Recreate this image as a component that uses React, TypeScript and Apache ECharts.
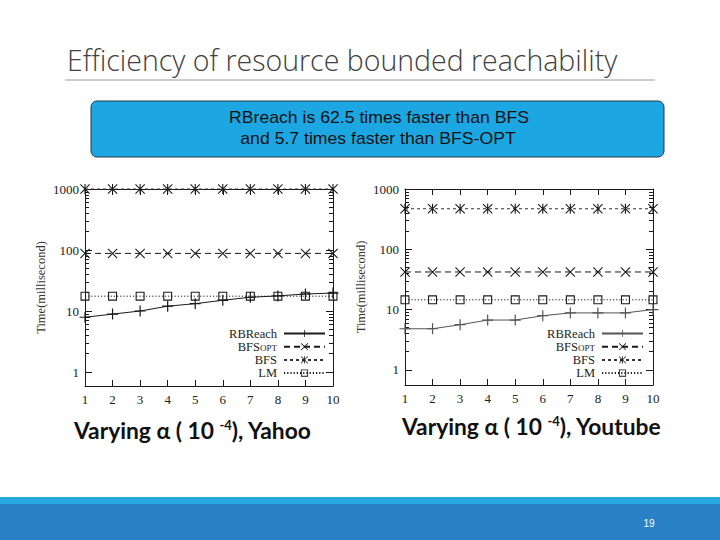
import React, { useEffect, useRef } from "react";
import * as echarts from "echarts";

const xValues = [1, 2, 3, 4, 5, 6, 7, 8, 9, 10];
const yTickLabels = ["1", "10", "100", "1000"];
const minorTicks = [2, 3, 4, 5, 6, 7, 8, 9, 20, 30, 40, 50, 60, 70, 80, 90, 200, 300, 400, 500, 600, 700, 800, 900];

// Yahoo (left chart)
const yahooRBReach = [7.9, 8.9, 10, 12, 13.2, 15, 16.8, 17.7, 19, 19.7];
const yahooBFSOPT = [88, 88, 88, 88, 88, 88, 88, 88, 88, 88];
const yahooBFS = [1000, 1000, 1000, 1000, 1000, 1000, 1000, 1000, 1000, 1000];
const yahooLM = [17.5, 17.5, 17.5, 17.5, 17.5, 17.5, 17.5, 17.5, 17.5, 17.5];

// Youtube (right chart)
const youtubeRBReach = [4.8, 4.8, 5.6, 6.7, 6.7, 7.9, 8.8, 8.8, 8.8, 10];
const youtubeBFSOPT = [42, 42, 42, 42, 42, 42, 42, 42, 42, 42];
const youtubeBFS = [470, 470, 470, 470, 470, 470, 470, 470, 470, 470];
const youtubeLM = [14.5, 14.5, 14.5, 14.5, 14.5, 14.5, 14.5, 14.5, 14.5, 14.5];

const seriesNames = ["RBReach", "BFSOPT", "BFS", "LM"];

const SYM_PLUS = "path://M4.45,0L5.55,0L5.55,10L4.45,10ZM0,4.45L10,4.45L10,5.55L0,5.55Z";
const SYM_CROSS = "path://M0,0.75L0.75,0L10,9.25L9.25,10ZM9.25,0L10,0.75L0.75,10L0,9.25Z";
const SYM_STAR = "path://M0,0.75L0.75,0L10,9.25L9.25,10ZM9.25,0L10,0.75L0.75,10L0,9.25ZM4.45,0L5.55,0L5.55,10L4.45,10Z";
const SYM_SQUARE = "path://M0,0L10,0L10,10L0,10ZM1.2,1.2L1.2,8.8L8.8,8.8L8.8,1.2Z";

const SERIF = "'Liberation Serif', 'DejaVu Serif', serif";
const INK = "#1a1a1a";

function pairs(vals: number[]) {
  return xValues.map((x, i) => [x, vals[i]]);
}

function logLabel(v: number) {
  const l = Math.log10(v);
  const r = Math.round(l);
  if (Math.abs(l - r) < 1e-6 && r >= 0 && r <= 3) return yTickLabels[r];
  return "";
}

function buildAxes(g: number, yMin: number) {
  const xAxes = [
    {
      gridIndex: g, type: "value", min: 1, max: 10, interval: 1, position: "bottom",
      axisLine: { show: true, lineStyle: { color: INK, width: 1 } },
      axisTick: { show: true, inside: true, length: 6, lineStyle: { color: INK } },
      axisLabel: { fontFamily: SERIF, fontSize: 13, color: "#222", margin: 7 },
      splitLine: { show: false },
    },
    {
      gridIndex: g, type: "value", min: 1, max: 10, interval: 1, position: "top",
      axisLine: { show: true, lineStyle: { color: INK, width: 1 } },
      axisTick: { show: true, inside: true, length: 6, lineStyle: { color: INK } },
      axisLabel: { show: false },
      splitLine: { show: false },
    },
  ];
  const common = { gridIndex: g, type: "log", logBase: 10, min: yMin, max: 1000, splitLine: { show: false } };
  const yAxes = [
    {
      ...common, position: "left",
      axisLine: { show: true, lineStyle: { color: INK, width: 1 } },
      axisTick: { show: true, inside: true, length: 7, lineStyle: { color: INK } },
      axisLabel: { fontFamily: SERIF, fontSize: 13, color: "#222", margin: 6, formatter: logLabel },
      name: "Time(millisecond)", nameLocation: "middle", nameGap: 38, nameRotate: 90,
      nameTextStyle: { fontFamily: SERIF, fontSize: 12.5, color: "#333" },
    },
    {
      ...common, position: "left",
      axisLine: { show: false },
      axisTick: { show: true, inside: true, length: 4, customValues: minorTicks, lineStyle: { color: INK } },
      axisLabel: { show: false },
    },
    {
      ...common, position: "right",
      axisLine: { show: true, lineStyle: { color: INK, width: 1 } },
      axisTick: { show: true, inside: true, length: 7, lineStyle: { color: INK } },
      axisLabel: { show: false },
    },
    {
      ...common, position: "right",
      axisLine: { show: false },
      axisTick: { show: true, inside: true, length: 4, customValues: minorTicks, lineStyle: { color: INK } },
      axisLabel: { show: false },
    },
  ];
  return { xAxes, yAxes };
}

function buildSeries(prefix: string, g: number, data: number[][], rbColor: string) {
  const xi = g * 2;
  const yi = g * 4;
  const base = { type: "line", xAxisIndex: xi, yAxisIndex: yi, clip: false, z: 5 };
  return [
    {
      ...base, name: prefix + "RBReach", data: pairs(data[0]), symbol: SYM_PLUS, symbolSize: 11,
      lineStyle: { color: rbColor, width: 1, type: "solid" },
      itemStyle: { color: rbColor },
    },
    {
      ...base, name: prefix + "BFSOPT", data: pairs(data[1]), symbol: SYM_CROSS, symbolSize: 10,
      lineStyle: { color: INK, width: 1, type: [6, 4] },
      itemStyle: { color: INK },
    },
    {
      ...base, name: prefix + "BFS", data: pairs(data[2]), symbol: SYM_STAR, symbolSize: 10,
      lineStyle: { color: "#333", width: 1, type: [3, 3] },
      itemStyle: { color: INK },
    },
    {
      ...base, name: prefix + "LM", data: pairs(data[3]), symbol: SYM_SQUARE, symbolSize: 9,
      lineStyle: { color: INK, width: 1, type: [1.2, 2] },
      itemStyle: { color: INK },
    },
  ];
}

function legendFor(prefix: string, right: number) {
  return {
    orient: "vertical", right, top: 327, align: "right", padding: 0,
    itemWidth: 41, itemHeight: 9, itemGap: 0.2,
    selectedMode: false,
    data: seriesNames.map((n) => prefix + n),
    formatter: (name: string) => {
      const n = name.slice(prefix.length);
      return n === "BFSOPT" ? "BFS{sub|OPT}" : n;
    },
    textStyle: {
      fontFamily: SERIF, fontSize: 12.5, color: "#222", lineHeight: 12.5, padding: [0, 2, 0, 0],
      rich: { sub: { fontFamily: SERIF, fontSize: 9, color: "#222", lineHeight: 2, verticalAlign: "bottom" } },
    },
  };
}

export default function App() {
  const ref = useRef<HTMLDivElement>(null);
  useEffect(() => {
    if (!ref.current) return;
    const chart = echarts.init(ref.current, undefined, { renderer: "svg" });
    const a0 = buildAxes(0, 0.59);
    const a1 = buildAxes(1, 0.56);
    const captionRich = { sup: { fontFamily: "Lato, sans-serif", fontWeight: "bold", fontSize: 13, fill: "#111", verticalAlign: "top", padding: [0, 0, 9, 0] } };
    const boxFont = "'Liberation Sans', Arial, sans-serif";
    const option = {
      animation: false,
      backgroundColor: "#ffffff",
      grid: [
        { left: 85, top: 189, width: 248, height: 197, show: false },
        { left: 405, top: 189, width: 248, height: 196, show: false },
      ],
      xAxis: [...a0.xAxes, ...a1.xAxes],
      yAxis: [...a0.yAxes, ...a1.yAxes],
      legend: [legendFor("L-", 394), legendFor("R-", 76)],
      series: [
        ...buildSeries("L-", 0, [yahooRBReach, yahooBFSOPT, yahooBFS, yahooLM], INK),
        ...buildSeries("R-", 1, [youtubeRBReach, youtubeBFSOPT, youtubeBFS, youtubeLM], "#555"),
      ],
      graphic: [
        {
          type: "text", x: 67, y: 60,
          style: { text: "Efficiency of resource bounded reachability", fontFamily: "'Open Sans', sans-serif", fontWeight: 300, fontSize: 28.5, fill: "#404040", verticalAlign: "middle" },
        },
        { type: "line", shape: { x1: 65, y1: 80, x2: 655, y2: 80 }, style: { stroke: "#9a9a9a", lineWidth: 1 } },
        {
          type: "rect", shape: { x: 91, y: 101, width: 573, height: 56, r: 6 },
          style: { fill: "#1ca7e2", stroke: "#233645", lineWidth: 1 },
        },
        {
          type: "text", x: 379, y: 117, scaleX: 1.05,
          style: { text: "RBreach is 62.5 times faster than BFS", fontFamily: boxFont, fontSize: 16.8, fill: "#111", align: "center", verticalAlign: "middle" },
        },
        {
          type: "text", x: 378, y: 138, scaleX: 1.05,
          style: { text: "and 5.7 times faster than BFS-OPT", fontFamily: boxFont, fontSize: 16.8, fill: "#111", align: "center", verticalAlign: "middle" },
        },
        {
          type: "text", x: 74, y: 430,
          style: {
            text: "Varying α ( 10 {sup|-4}), Yahoo", fontFamily: "Lato, sans-serif", fontWeight: "bold", fontSize: 22.8, fill: "#111",
            verticalAlign: "middle", rich: captionRich,
          },
        },
        {
          type: "text", x: 402, y: 426,
          style: {
            text: "Varying α ( 10 {sup|-4}), Youtube", fontFamily: "Lato, sans-serif", fontWeight: "bold", fontSize: 22.8, fill: "#111",
            verticalAlign: "middle", rich: captionRich,
          },
        },
        { type: "rect", shape: { x: 0, y: 497, width: 720, height: 8 }, style: { fill: "#25a9e0" } },
        { type: "rect", shape: { x: 0, y: 504, width: 720, height: 36 }, style: { fill: "#2a80c4" } },
        {
          type: "text", x: 649, y: 523,
          style: { text: "19", fontFamily: "'Liberation Sans', sans-serif", fontSize: 10, fill: "#ffffff", align: "center", verticalAlign: "middle" },
        },
      ],
    };
    chart.setOption(option as any);
    return () => chart.dispose();
  }, []);
  return <div ref={ref} style={{ position: "fixed", left: 0, top: 0, width: 720, height: 540 }} />;
}
